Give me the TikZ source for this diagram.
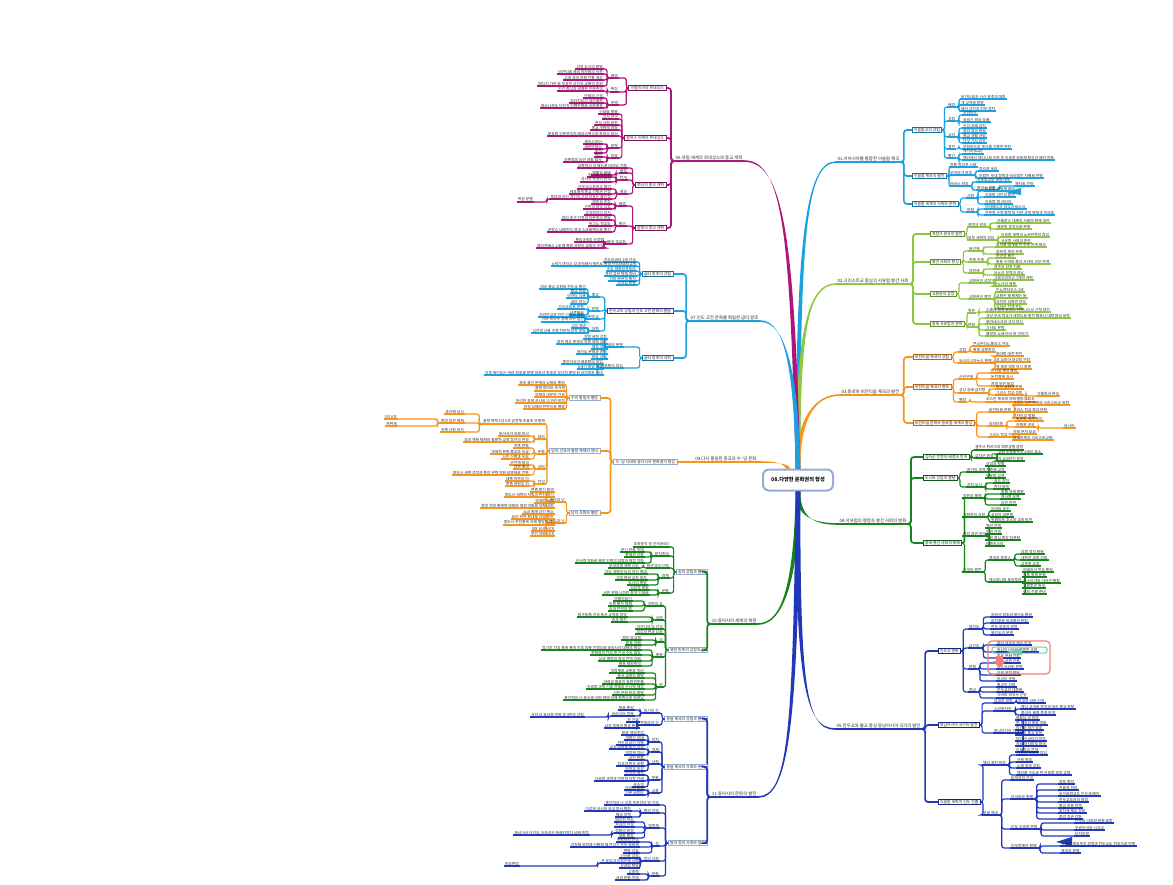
\documentclass[tikz,border=0pt]{standalone}
\usepackage{fontspec}
\setmainfont{Noto Sans CJK KR}
\usepackage{tikz}
\usetikzlibrary{calc}

\definecolor{MapCyan}{RGB}{27,161,226}
\definecolor{MapLime}{RGB}{141,198,63}
\definecolor{MapOrange}{RGB}{247,148,29}
\definecolor{MapGreen}{RGB}{22,132,28}
\definecolor{MapBlue}{RGB}{32,56,186}
\definecolor{MapMagenta}{RGB}{172,22,122}
\definecolor{MapNavy}{RGB}{46,49,146}
\definecolor{MapFrame}{RGB}{150,172,212}
\definecolor{MapSalmon}{RGB}{240,128,118}
\definecolor{MapTeal}{RGB}{110,200,180}
\definecolor{MapText}{RGB}{40,40,40}
\colorlet{br}{black}

\newcommand\leaffont{\fontsize{1.9}{2.2}\selectfont}
\newcommand\boxfont{\fontsize{1.95}{2.3}\selectfont}
\newcommand\topicfont{\fontsize{2.2}{2.6}\selectfont}
\newcommand\centerfont{\fontsize{2.6}{3}\selectfont\bfseries}

\tikzset{
  leaf/.style={font=\leaffont, text=MapText, inner xsep=0.6pt, inner ysep=0.35pt, outer sep=0pt,
    append after command={(\tikzlastnode.south west) edge[draw=br, line width=0.6pt] (\tikzlastnode.south east)}},
  rleaf/.style={leaf, anchor=south west},
  lleaf/.style={leaf, anchor=south east},
  topic/.style={font=\topicfont, text=MapText, inner xsep=0.8pt, inner ysep=0.5pt, outer sep=0pt,
    append after command={(\tikzlastnode.south west) edge[draw=br, line width=0.9pt] (\tikzlastnode.south east)}},
  subbox/.style={draw=br!70!black, fill=white, line width=0.5pt, font=\boxfont, text=MapText,
    inner xsep=1pt, inner ysep=0.6pt, outer sep=0pt},
  framebox/.style={subbox, draw=MapFrame},
  link/.style={draw=br, line width=0.6pt, rounded corners=1.2pt},
  stem/.style={draw=br, line width=0.85pt, rounded corners=1.5pt}
}

% leaves to the right / to the left of a parent node
\newcommand\rleaves[4][south east]{%
  \foreach \yy/\txt [count=\nn] in {#4}{%
    \node[rleaf] (#2-\nn) at (#3,\yy) {\txt};
    \draw[link] (#2.#1) -- ++(2.5,0) |- (#2-\nn.south west);
  }}
\newcommand\lleaves[4][south west]{%
  \foreach \yy/\txt [count=\nn] in {#4}{%
    \node[lleaf] (#2-\nn) at (#3,\yy) {\txt};
    \draw[link] (#2.#1) -- ++(-2.5,0) |- (#2-\nn.south east);
  }}
% tapered main branch
\newcommand\trunk[4]{%
  \fill[br] ($(#1)+(-2.3,0)$) .. controls +(#3) and +(#4) .. ($(#2)+(0,-0.8)$)
    -- ($(#2)+(0,0.8)$) .. controls +(#4) and +(#3) .. ($(#1)+(2.3,0)$) -- cycle;}

\begin{document}
\begin{tikzpicture}[x=0.5pt, y=-0.5pt]
  \fill[white] (0,0) rectangle (1173,884);
  \useasboundingbox (0,0) rectangle (1173,884);

  % Center
  \node[draw=MapFrame, line width=1pt, rounded corners=3pt, fill=white, font=\centerfont,
        text=black, minimum width=35pt, minimum height=10.5pt] (ctr) at (798,480) {08.다양한 문화권의 형성};
  \coordinate (ctr-in09) at ($(ctr.north)+(-10,0)$);

  % 01 Islam
  \begin{scope}
    \colorlet{br}{MapCyan}
    \node[topic, anchor=south west] (m01) at (836,162) {01.서아시아를 통합한 이슬람 제국};
    \trunk{ctr.north}{m01.south west}{0,-230}{-30,0}
    \foreach \nm/\yy/\txt in {b01a/130/이슬람교의 성립, b01b/176/이슬람 제국의 발전, b01c/204/이슬람 세계의 사회와 문화}{
      \node[subbox, anchor=west] (\nm) at (912,\yy) {\txt};
      \draw[stem] (m01.south east) -- ++(3,0) |- (\nm.west);
    }
    \rleaves[east]{b01a}{947}{107/배경, 121/성립, 137/교리, 149/경전, 158/확산}
    \rleaves{b01a-1}{960}{99/비잔티움과 사산 왕조의 대립, 105/새 교역로 발달, 111/메카 상인의 빈부 격차}
    \rleaves{b01a-2}{962}{115/무함마드, 122/유일신 알라 숭배}
    \rleaves{b01a-3}{962}{128/우상 숭배 금지, 133/알라 앞의 평등, 138/종교 생활 규범, 143/다섯 가지 의무}
    \rleaves{b01a-4}{962}{149/무함마드의 계시를 기록한 쿠란}
    \rleaves{b01a-5}{962}{154/헤지라(622), 160/메카에서 메디나로 이주 후 이슬람 공동체 형성과 메카 정복}
    \rleaves[east]{b01b}{949}{167/정통 칼리프 시대, 175/우마이야 왕조, 186/아바스 왕조}
    \rleaves{b01b-2}{978}{171/칼리프 세습, 178/아랍인 우대 정책과 비아랍인 차별로 반발}
    \rleaves{b01b-3}{976}{182/이슬람교도 평등 대우, 190/탈라스 전투}
    \rleaves{b01b-3-2}{1014}{186/제지술 전파}
    \fill[br] (1021,188) -- (1021,195) -- (1005,192) -- cycle;
    \rleaves[east]{b01c}{966}{198/사회, 212/문화}
    \rleaves{b01c-1}{984}{191/이슬람 공동체 움마, 197/이슬람 상인의 활약, 204/이슬람 법 샤리아}
    \rleaves{b01c-2}{984}{209/아라베스크 양식과 모스크, 215/천문학 수학 화학 등 자연 과학 발달과 연금술}
  \end{scope}

  % 02 Western Europe
  \begin{scope}
    \colorlet{br}{MapLime}
    \node[topic, anchor=south west] (m02) at (836,284) {02.크리스트교 중심의 서유럽 봉건 사회};
    \trunk{ctr.north}{m02.south west}{0,-130}{-30,0}
    \foreach \nm/\yy/\txt in {b02a/234/프랑크 왕국의 발전, b02b/262/봉건 사회의 형성, b02c/294/교황권의 성장, b02d/324/중세 서유럽의 문화}{
      \node[subbox, anchor=west] (\nm) at (930,\yy) {\txt};
      \draw[stem] (m02.south east) -- ++(3,0) |- (\nm.west);
    }
    \rleaves[east]{b02a}{967}{227/프랑크 왕국, 240/외부 세력의 침입}
    \rleaves{b02a-1}{996}{223/카롤루스 대제의 서로마 황제 대관, 229/베르됭 조약으로 분열}
    \rleaves{b02a-2}{1000}{237/이슬람 세력과 노르만족의 침입, 243/서유럽 사회의 혼란}
    \rleaves[east]{b02b}{968}{251/봉건제, 262/주종 관계, 273/장원제}
    \rleaves{b02b-1}{995}{247/토지를 매개로 한 주종 관계 형성, 254/쌍무적 계약 관계}
    \rleaves{b02b-2}{995}{258/주군과 봉신, 264/봉토 수여와 충성 서약의 의무 관계}
    \rleaves{b02b-3}{993}{269/영주의 장원 지배, 275/농노의 부역과 공납}
    \rleaves[east]{b02c}{968}{283/교황권의 성장, 299/교황권의 절정}
    \rleaves{b02c-1}{993}{280/그레고리우스 7세의 개혁, 286/카노사의 굴욕}
    \rleaves{b02c-2}{995}{292/인노켄티우스 3세, 298/교황은 해 황제는 달, 304/성직자 임명권 장악, 309/십자군 전쟁 주도}
    \rleaves[east]{b02d}{967}{313/학문, 327/문화}
    \rleaves{b02d-1}{985}{312/스콜라 철학 토마스 아퀴나스의 신학 대전}
    \rleaves{b02d-2}{985}{318/성당 부속 학교가 대학으로 발전 볼로냐 대학 파리 대학, 324/로마네스크와 고딕 양식, 330/기사도 문학, 336/롤랑의 노래 아서 왕 이야기}
  \end{scope}

  % 03 Byzantium
  \begin{scope}
    \colorlet{br}{MapOrange}
    \node[topic, anchor=south west] (m03) at (840,395) {03.동로마 비잔티움 제국의 발전};
    \trunk{ctr.north}{m03.south west}{0,-50}{-25,0}
    \foreach \nm/\yy/\txt in {b03a/357/비잔티움 제국의 성립, b03b/387/비잔티움 제국의 변화, b03c/423/비잔티움 문화와 동유럽 세계의 형성}{
      \node[subbox, anchor=west] (\nm) at (913,\yy) {\txt};
      \draw[stem] (m03.south east) -- ++(3,0) |- (\nm.west);
    }
    \rleaves[east]{b03a}{958}{352/성립, 363/유스티니아누스 황제}
    \rleaves{b03a-1}{972}{346/콘스탄티노폴리스 천도, 352/황제 교황주의}
    \rleaves{b03a-2}{995}{356/로마법 대전 편찬, 362/성 소피아 대성당 건립, 369/옛 로마 영토 일시 회복}
    \rleaves[east]{b03b}{958}{379/군관구제, 393/성상 숭배 금지령, 402/멸망}
    \rleaves{b03b-1}{990}{373/군사와 행정 통합, 379/둔전병제 실시, 386/자영 농민 육성}
    \rleaves{b03b-2}{995}{389/동서 교회의 분열, 395/그리스 정교 성립}
    \rleaves{b03b-2-2}{1036}{396/가톨릭과 분리}
    \rleaves{b03b-3}{985}{402/오스만 제국에 의해 멸망(1453)}
    \rleaves[east]{b03c}{988}{412/비잔티움 문화, 426/슬라브족, 437/그리스 정교 전파}
    \rleaves{b03c-1}{1012}{405/그리스 고전 문화와 크리스트교 융합, 412/그리스 정교 중심 문화, 418/모자이크 벽화}
    \rleaves{b03c-2}{1015}{421/동유럽 세계 형성, 427/키예프 공국}
    \rleaves{b03c-2-2}{1063}{428/러시아}
    \rleaves{b03c-3}{1012}{434/키릴 문자 보급, 440/슬라브족의 크리스트교화}
  \end{scope}

  % 04 Expansion and change
  \begin{scope}
    \colorlet{br}{MapGreen}
    \node[topic, anchor=south west] (m04) at (838,524) {04.서유럽의 팽창과 봉건 사회의 변화};
    \trunk{ctr.south}{m04.south west}{0,25}{-25,0}
    \foreach \nm/\yy/\txt in {b04a/457/십자군 전쟁의 배경과 전개, b04b/478/도시와 상업의 발달, b04c/543/중세 봉건 사회의 해체}{
      \node[subbox, anchor=west] (\nm) at (923,\yy) {\txt};
      \draw[stem] (m04.south east) -- ++(3,0) |- (\nm.west);
    }
    \rleaves[east]{b04a}{974}{450/셀주크 튀르크의 예루살렘 점령, 458/십자군 원정}
    \rleaves{b04a-2}{997}{454/교황 우르바누스 2세의 호소, 461/약 200년간 원정}
    \rleaves[east]{b04b}{966}{472/원거리 무역, 487/자치 도시}
    \rleaves{b04b-1}{985}{466/상업의 부활, 472/지중해 교역, 478/북유럽 교역}
    \rleaves{b04b-2}{993}{483/길드 조직, 489/한자 동맹}
    \rleaves[east]{b04c}{962}{498/장원의 해체, 517/교황권의 쇠퇴, 536/중앙 집권 국가, 572/각국의 발전}
    \rleaves{b04c-1}{1000}{494/화폐 경제 발달, 499/흑사병 유행, 505/농민 반란}
    \rleaves{b04c-2}{990}{511/아비뇽 유수, 517/교회의 대분열, 522/위클리프 후스의 교회 비판}
    \rleaves{b04c-3}{985}{528/백년 전쟁, 534/장미 전쟁, 540/국왕 중심 중앙 집권화, 546/레콩키스타}
    \rleaves{b04c-4}{988}{560/영국과 프랑스, 582/에스파냐와 포르투갈}
    \rleaves{b04c-4-1}{1020}{554/의회 정치 발달, 560/대헌장 모범 의회, 566/삼부회 소집}
    \rleaves{b04c-4-2}{1022}{572/이베리아 반도 통일, 577/국토 회복 운동, 583/카스티야와 아라곤 통합, 588/포르투갈 왕국, 594/해외 진출 준비}
  \end{scope}

  % 05 South and Southeast Asia
  \begin{scope}
    \colorlet{br}{MapBlue}
    \node[topic, anchor=south west] (m05) at (835,729) {05.힌두교와 불교 중심 동남아시아 국가의 발전};
    \trunk{ctr.south}{m05.south west}{0,190}{-30,0}
    \foreach \nm/\yy/\txt in {b05a/651/인도의 변화, b05b/725/동남아시아 국가의 발전, b05c/802/이슬람 세력의 인도 진출}{
      \node[subbox, anchor=west] (\nm) at (938,\yy) {\txt};
      \draw[stem] (m05.south east) -- ++(3,0) |- (\nm.west);
    }
    \rleaves[east]{b05a}{968}{629/북인도, 648/남인도, 669/문화, 692/종교}
    \rleaves{b05a-1}{990}{617/하르샤 왕조의 북인도 통일, 623/라지푸트 왕국들의 분립, 629/힌두 왕조의 경쟁, 635/북인도의 분열}
    \rleaves{b05a-2}{996}{645/촐라 왕조의 해상 무역, 652/동남아시아와 활발한 교류, 658/힌두 문화 전파}
    \rleaves{b05a-3}{996}{663/힌두 사원 건축, 669/산스크리트 문학, 675/타밀 문학 발달, 681/바크티 운동}
    \rleaves{b05a-4}{996}{687/불교의 쇠퇴, 692/힌두교의 대중화, 698/시바와 비슈누 신앙}
    \draw[MapSalmon, line width=0.6pt, rounded corners=2pt] (988,641) rectangle (1050,674);
    \draw[MapTeal, line width=0.5pt, rounded corners=1pt] (992,647) rectangle (1047,653);
    \fill[MapTeal] (1022,648) -- (1022,655) -- (1006,652) -- cycle;
    \fill[MapSalmon] (996,656) -- (1003,656) -- (1003,661) -- (1006,661) -- (999.5,668) -- (993,661) -- (996,661) -- cycle;
    \rleaves[east]{b05b}{993}{703/앙코르 왕조, 711/스리위자야, 733/동남아시아 각국}
    \rleaves{b05b-1}{1017}{703/앙코르 와트 건설}
    \rleaves{b05b-2}{1020}{709/해상 교역로 장악과 대승 불교 발달, 715/믈라카 해협 중계 무역}
    \rleaves{b05b-3}{1015}{720/베트남 리 왕조, 725/쩐 왕조와 몽골 격퇴, 730/미얀마 파간 왕조, 735/상좌부 불교 발달, 741/타이 수코타이 왕조, 746/자와 마자파힛 왕국, 752/이슬람교 전파}
    \rleaves[east]{b05c}{982}{765/델리 술탄 왕조, 815/무굴 제국}
    \rleaves{b05c-1}{1016}{755/가즈니 왕조의 침입, 762/구르 왕조, 768/노예 왕조 성립, 775/델리를 수도로 한 이슬람 왕조 교체}
    \rleaves{b05c-2}{1010}{780/바부르의 건국, 799/아크바르 황제, 829/인도 이슬람 문화, 848/아우랑제브 황제}
    \rleaves{b05c-2-2}{1058}{784/영토 확장, 790/관료제 정비, 796/비이슬람교도 인두세 폐지, 802/힌두교도와의 화합, 808/종교 관용 정책, 813/토지세 제도 정비, 819/중앙 집권 강화}
    \rleaves{b05c-2-3}{1074}{823/힌두와 이슬람 문화 융합, 830/우르두어와 시크교, 836/타지마할}
    \fill[br] (1072,837) -- (1072,846) -- (1056,842) -- cycle;
    \rleaves{b05c-2-4}{1060}{846/이슬람 제일주의 정책과 힌두교도 탄압으로 반발, 853/제국의 분열}
  \end{scope}

  % 06 Renaissance and Reformation
  \begin{scope}
    \colorlet{br}{MapMagenta}
    \node[topic, anchor=south east] (m06) at (744,161) {06.유럽 세계의 르네상스와 종교 개혁};
    \trunk{ctr.north}{m06.south east}{-6,-230}{40,0}
    \foreach \nm/\yy/\txt in {b06a/88/이탈리아의 르네상스, b06b/138/알프스 이북의 르네상스, b06c/185/루터의 종교 개혁, b06d/228/칼뱅의 종교 개혁}{
      \node[subbox, anchor=east] (\nm) at (666,\yy) {\txt};
      \draw[stem] (m06.south west) -- ++(-3,0) |- (\nm.east);
    }
    \lleaves[west]{b06a}{619}{78/배경, 92/특징, 105/문예}
    \lleaves{b06a-1}{604}{69/상업 도시의 발달, 74/비잔티움 제국 학자들의 이주, 80/고대 로마 문화 전통 계승, 86/메디치 가문 등 부유한 상인과 교황의 후원}
    \lleaves{b06a-2}{604}{91/인간 중심의 세계관 인문주의}
    \lleaves{b06a-3}{604}{98/단테의 신곡, 103/보카치오의 데카메론, 108/레오나르도 다빈치 미켈란젤로 라파엘로}
    \lleaves[west]{b06b}{619}{114/인쇄술 발달, 119/성서 연구, 125/현실 사회 비판, 130/종교 개혁에 영향, 136/북유럽 인문주의자 에라스뮈스와 토마스 모어, 148/문학, 158/미술}
    \lleaves{b06b-6}{603}{144/셰익스피어, 149/세르반테스, 153/초서}
    \lleaves{b06b-7}{603}{157/뒤러, 162/브뤼헐의 농민 생활 묘사}
    \lleaves[west]{b06c}{628}{168/교황청의 성 베드로 대성당 건축, 173/배경, 180/전개, 194/결과}
    \lleaves{b06c-2}{612}{175/면벌부 판매}
    \lleaves{b06c-3}{612}{177/95개조 반박문, 182/성서의 독일어 번역}
    \lleaves{b06c-4}{612}{189/아우크스부르크 화의, 194/제후에게 종교 선택권 인정, 199/루터파 공인 개인의 신앙 자유는 불인정}
    \lleaves{b06c-4-3}{534}{202/독일 분열}
    \lleaves[west]{b06d}{627}{206/배경, 226/확산, 244/영국 국교회}
    \lleaves{b06d-1}{612}{204/예정설 주장, 209/근면과 절약 강조}
    \lleaves{b06d-2}{612}{215/상공업자의 지지, 220/영리 추구 인정과 자본주의 발달, 226/위그노 청교도, 232/프랑스 네덜란드 영국 스코틀랜드로 확산}
    \lleaves{b06d-3}{605}{242/헨리 8세의 수장법, 248/엘리자베스 1세 때 확립 국왕이 교회의 수장}
  \end{scope}

  % 07 Gupta
  \begin{scope}
    \colorlet{br}{MapCyan}
    \node[topic, anchor=south east] (m07) at (760,321) {07.인도 고전 문화를 확립한 굽타 왕조};
    \trunk{ctr.north}{m07.south east}{-2,-100}{25,0}
    \foreach \nm/\yy/\txt in {b07a/274/굽타 왕조의 성립, b07c/358/굽타 왕조의 쇠퇴}{
      \node[subbox, anchor=east] (\nm) at (673,\yy) {\txt};
      \draw[stem] (m07.south west) -- ++(-3,0) |- (\nm.east);
    }
    \node[subbox, draw=MapNavy, anchor=east] (b07b) at (673,311) {힌두교의 성립과 인도 고전 문화의 발달};
    \draw[stem] (m07.south west) -- ++(-3,0) |- (b07b.east);
    \lleaves[west]{b07a}{637}{262/찬드라굽타 1세 건국, 266/4세기 갠지스 강 유역에서 북인도 통일 찬드라굽타 2세, 271/수도 파탈리푸트라, 276/중앙 집권 체제 정비, 281/지방 분권적 통치, 285/상공업 발달}
    \lleaves[west]{b07b}{600}{297/불교, 311/문학, 319/힌두교, 331/과학}
    \lleaves{b07b-1}{587}{289/대승 불교 쇠퇴와 힌두교 확산, 293/불교 미술, 298/아잔타 석굴, 304/굽타 양식}
    \lleaves{b07b-2}{585}{309/산스크리트 문학, 315/샤쿤탈라}
    \lleaves{b07b-3}{585}{317/브라만교와 민간 신앙의 결합, 322/시바 비슈누 숭배 마누 법전}
    \lleaves{b07b-4}{587}{328/0의 개념, 333/십진법 사용 수학 천문학 의학 발달}
    \lleaves[west]{b07c}{624}{347/내부 분열, 368/에프탈의 침입}
    \lleaves{b07c-1}{608}{339/지방 세력 성장, 344/왕위 계승 분쟁과 귀족 세력 성장, 349/재정 악화, 354/북인도 분열과 혼란, 359/왕조 쇠퇴}
    \lleaves{b07c-2}{604}{364/중앙아시아 에프탈의 침입, 369/6세기 중엽 멸망, 375/이후 북인도는 여러 왕조로 분열 하르샤 왕조의 일시적 통일 뒤 라지푸트 시대}
  \end{scope}

  % 09 Sui and Tang
  \begin{scope}
    \colorlet{br}{MapOrange}
    \node[topic, anchor=south east] (m09) at (758,462) {09.다시 통일된 중국과 수·당 문화};
    \trunk{ctr-in09}{m09.south east}{-2,-6}{15,0}
    \node[framebox, anchor=east] (b09) at (677,462) {수·당 시대와 동아시아 문화권의 형성};
    \draw[stem] (m09.south west) -- (b09.east);
    \foreach \nm/\yy/\txt in {b09a/398/수의 통일과 멸망, b09b/451/당의 건국과 율령 체제의 정비, b09c/513/당의 쇠퇴와 멸망}{
      \node[framebox, anchor=east] (\nm) at (600,\yy) {\txt};
      \draw[stem] (b09.west) -- ++(-3,0) |- (\nm.east);
    }
    \lleaves[west]{b09a}{566}{385/북조 출신 문제의 남북조 통일, 391/율령 정비와 과거제, 397/양제의 대운하 건설, 403/무리한 토목 공사와 고구려 원정, 409/원정 실패와 반란으로 멸망}
    \lleaves[west]{b09b}{546}{424/율령 체제 3성 6부 균전제 조용조 부병제, 439/대외, 454/문화, 469/쇠퇴, 484/전성}
    \lleaves{b09b-1}{465}{414/과거제 실시, 423/중앙 집권 체제, 432/귀족 사회 유지}
    \lleaves{b09b-1-2}{398}{419/3성 6부, 426/주현제}
    \lleaves{b09b-2}{530}{436/동아시아 국제 질서, 442/조공 책봉 체제와 활발한 교역 장안의 번영}
    \lleaves{b09b-3}{530}{448/귀족 문화, 454/국제적 문화 불교와 유교, 459/시인 이백과 두보}
    \lleaves{b09b-4}{530}{465/균전제 붕괴, 469/장원 확대, 475/절도사 세력 성장과 중앙 권력 약화 모병제로 전환}
    \lleaves{b09b-5}{530}{481/태종 정관의 치, 486/현종 개원의 치}
    \lleaves[west]{b09c}{566}{502/안사의 난, 523/황소의 난}
    \lleaves{b09c-1}{555}{492/현종 말기 발생, 497/절도사 세력의 자립과 번진 할거, 503/양세법 시행, 508/중앙 정부 통제력 약화와 재정 악화로 국력 쇠퇴}
    \lleaves{b09c-2}{555}{514/소금 밀매 상인 황소, 519/농민 반란 확대로 지방 혼란, 525/절도사 주전충에 의해 멸망(907), 531/5대 10국 시대, 536/무인 지배 시대}
  \end{scope}

  % 10 Song and northern peoples
  \begin{scope}
    \colorlet{br}{MapGreen}
    \node[topic, anchor=south east] (m10) at (758,624) {10.동아시아 세계의 재편};
    \trunk{ctr.south}{m10.south east}{-2,90}{25,0}
    \foreach \nm/\yy/\txt in {b10a/572/송의 성립과 발전, b10b/650/북방 민족의 성장과 원}{
      \node[framebox, anchor=east] (\nm) at (707,\yy) {\txt};
      \draw[stem] (m10.south west) -- ++(-3,0) |- (\nm.east);
    }
    \lleaves[west]{b10a}{670}{547/조광윤의 송 건국(960), 556/문치주의, 568/왕안석의 신법, 578/경제, 593/문화}
    \lleaves{b10a-2}{645}{552/문신 관료 우대, 557/황제권 강화, 563/군사력 약화로 북방 민족의 압박과 재정 악화}
    \lleaves{b10a-3}{640}{568/부국강병 개혁 시도}
    \lleaves{b10a-4}{648}{574/강남 개발과 농업 생산 증대, 580/상업 발달 교자 회자, 585/도시의 발달}
    \lleaves{b10a-5}{650}{590/성리학 발달, 595/서민 문화 나침반 화약 인쇄술}
    \lleaves[west]{b10b}{664}{606/거란의 요, 620/서하, 629/아구다의 금 건국, 634/정강의 변과 남송, 642/금, 657/몽골, 687/원}
    \lleaves{b10b-1}{633}{601/야율아보기, 606/이중 통치 체제, 611/송과 전연의 맹}
    \lleaves{b10b-2}{628}{617/탕구트족 건국 동서 교역로 장악, 622/송과 화친}
    \lleaves{b10b-5}{642}{640/맹안 모극제, 645/화북 지배}
    \lleaves{b10b-6}{642}{650/칭기즈 칸의 몽골 통일 이후 정복 전쟁으로 유라시아 대제국 형성, 655/쿠빌라이 칸의 원 건국 수도 대도, 661/남송 멸망과 중국 전역 지배, 666/몽골 제일주의}
    \lleaves{b10b-7}{645}{673/역참제로 교통로 정비, 678/동서 교류의 활발, 684/마르코 폴로의 동방견문록, 689/이슬람 과학 기술 전래와 수시력 제작, 695/서민 문화 원곡 발달, 700/홍건적의 난 등으로 쇠퇴 명에 의해 북쪽으로 밀려남}
  \end{scope}

  % 11 East Asian culture
  \begin{scope}
    \colorlet{br}{MapBlue}
    \node[topic, anchor=south east] (m11) at (758,797) {11.동아시아 문화의 발전};
    \trunk{ctr.south}{m11.south east}{-3,240}{30,0}
    \foreach \nm/\yy/\txt in {b11a/719/몽골 제국의 성립과 발전, b11b/767/몽골 제국의 사회와 문화, b11c/843/명과 청의 사회와 문화}{
      \node[framebox, anchor=east] (\nm) at (707,\yy) {\txt};
      \draw[stem] (m11.south west) -- ++(-3,0) |- (\nm.east);
    }
    \lleaves[west]{b11a}{660}{713/칭기즈 칸, 725/쿠빌라이 칸}
    \lleaves{b11a-1}{635}{710/몽골 통일, 716/유라시아 정복}
    \lleaves{b11a-1-2}{585}{717/서하 금 호라즘 정복 후 4한국 성립}
    \lleaves{b11a-2}{640}{722/원 건국, 728/남송 정복과 중국 통일}
    \lleaves[west]{b11b}{660}{742/정치, 752/경제, 764/사회, 780/문화, 793/교류}
    \lleaves{b11b-1}{645}{735/몽골 제일주의, 740/색목인 우대, 745/한인과 남인 차별}
    \lleaves{b11b-2}{645}{749/교초 남발로 물가 상승, 755/역참제 정비}
    \lleaves{b11b-3}{645}{760/서민 문화, 766/잡극과 원곡 유행, 771/라마교 숭상}
    \lleaves{b11b-4}{645}{775/수시력 제작, 781/이슬람 과학과 천문학 의학 전래, 787/곽수경}
    \lleaves{b11b-5}{645}{790/마르코 폴로, 795/이븐 바투타}
    \lleaves[west]{b11c}{660}{805/홍건적의 난 이후 주원장이 명 건국, 813/명의 건국, 828/영락제, 846/청, 861/청의 사회, 876/문화}
    \lleaves{b11c-2}{632}{811/이갑제 실시와 유교 질서 확립, 817/해금 정책}
    \lleaves{b11c-3}{635}{822/베이징 천도, 827/자금성 건설, 833/정화의 원정, 838/영토 확장}
    \lleaves{b11c-3-3}{590}{835/동남아시아 인도 아프리카 동해안까지 남해 원정}
    \lleaves{b11c-4}{640}{842/누르하치 건국, 847/강희제 옹정제 건륭제 때 전성기 만한 병용제, 853/변발 강요}
    \lleaves{b11c-5}{640}{858/신사층 성장, 863/은 유입과 지정은제 시행, 868/상공업 발달}
    \lleaves{b11c-5-2}{520}{866/일조편법}
    \lleaves{b11c-6}{640}{874/고증학, 880/서양 문물 전래}
  \end{scope}
\end{tikzpicture}
\end{document}
